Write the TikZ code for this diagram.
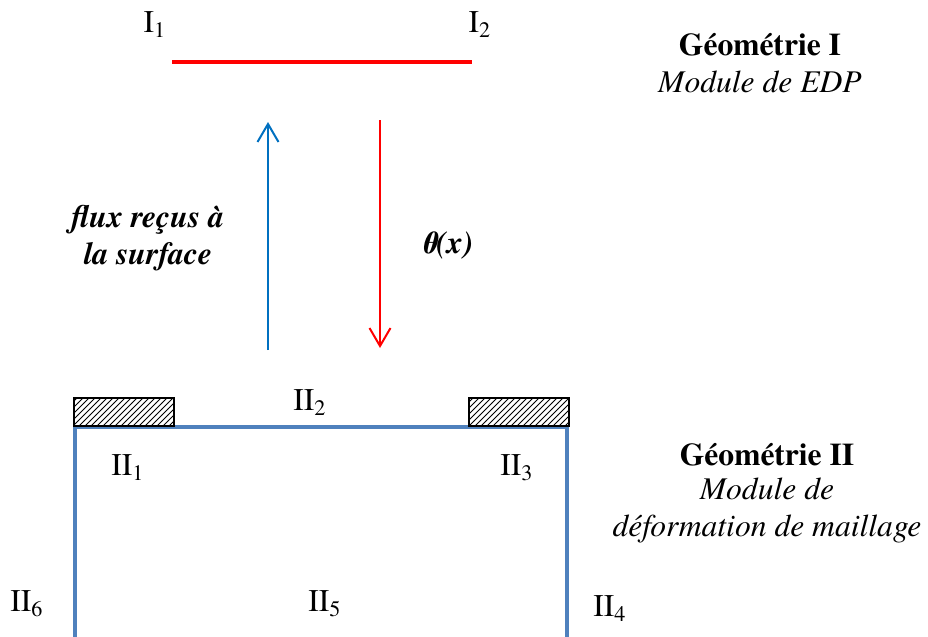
\documentclass[tikz,border=0pt]{standalone}
\usepackage{fontspec}
\setmainfont{TeX Gyre Termes}
\usepackage{xcolor}
\definecolor{fluxblue}{HTML}{0070C0}
\definecolor{thetared}{HTML}{FF0000}
\definecolor{meshblue}{HTML}{4F81BD}
\usepackage{tikz}
\usetikzlibrary{positioning,arrows.meta,patterns}
\tikzset{
  txt/.style={font=\fontsize{15.8}{18.5}\selectfont, inner sep=0pt, align=center},
  barb/.style={-{Straight Barb[length=9pt,width=10.5pt,line width=1pt]}, line width=1pt},
  clamp/.style={draw=black, line width=1pt, pattern=north east lines}
}

\begin{document}
\begin{tikzpicture}[x=0.5pt, y=-0.5pt]
  \useasboundingbox (0,0) rectangle (928,637);
  % geometrie I : la surface
  \draw[draw=thetared, line width=2pt] (172,62) -- (472,62);
  \node[txt] (i1) at (155,25) {I\textsubscript{1}};
  \node[txt] (i2) at (480,25) {I\textsubscript{2}};
  \node[txt, font=\fontsize{15.8}{18.5}\selectfont\bfseries] (geo1) at (760,45) {Géométrie I};
  \node[txt, font=\fontsize{15.8}{18.5}\selectfont\itshape] (geo1sub) at (760,82) {Module de EDP};
  % echanges entre les deux modules
  \coordinate (fluxstart) at (268,350);
  \coordinate (fluxend) at (268,122);
  \coordinate (thetastart) at (380,120);
  \coordinate (thetaend) at (380,348);
  \draw[barb, draw=fluxblue] (fluxstart) -- (fluxend);
  \draw[barb, draw=thetared] (thetastart) -- (thetaend);
  \node[txt, font=\fontsize{15.8}{18.5}\selectfont\bfseries\itshape] (flux) at (148,238)
       {flux reçus à\\la surface};
  \node[txt, font=\fontsize{15.8}{18.5}\selectfont\bfseries\itshape] (theta) at (447,245) {θ(x)};
  % geometrie II : le maillage
  \draw[draw=meshblue, line width=2pt] (75,640) -- (75,427) -- (567,427) -- (567,640);
  \draw[clamp] (74,398) rectangle (174,426);
  \draw[clamp] (469,398) rectangle (569,426);
  \node[txt] (ii2) at (310,403) {II\textsubscript{2}};
  \node[txt] (ii1) at (128,468) {II\textsubscript{1}};
  \node[txt] (ii3) at (517,468) {II\textsubscript{3}};
  \node[txt] (ii6) at (27,604) {II\textsubscript{6}};
  \node[txt] (ii5) at (325,604) {II\textsubscript{5}};
  \node[txt] (ii4) at (610,609) {II\textsubscript{4}};
  \node[txt, font=\fontsize{15.8}{18.5}\selectfont\bfseries] (geo2) at (767,455) {Géométrie II};
  \node[txt, font=\fontsize{15.8}{18.5}\selectfont\itshape] (geo2sub) at (767,510)
       {Module de\\déformation de maillage};
\end{tikzpicture}
\end{document}
